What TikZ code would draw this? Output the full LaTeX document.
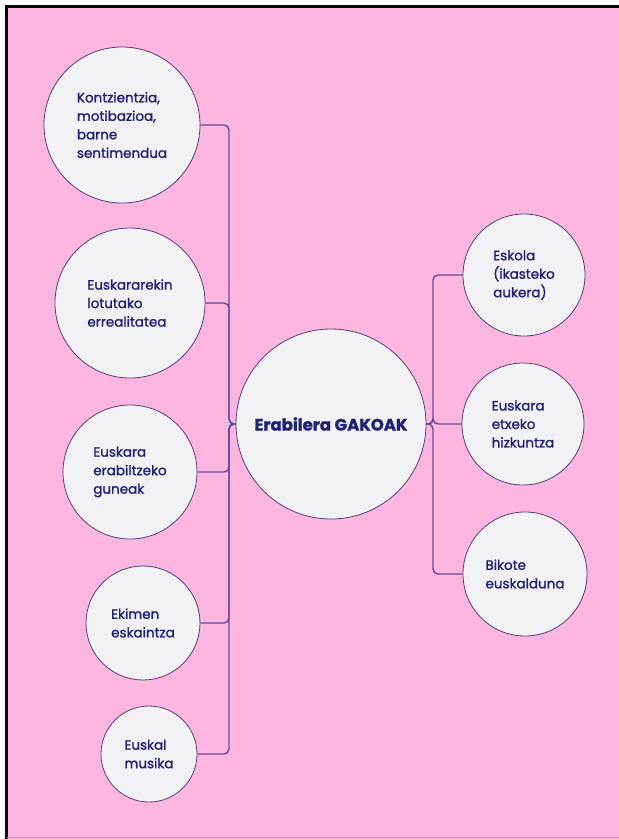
\documentclass[tikz,border=0pt]{standalone}
\usepackage{fontspec}
\setmainfont{Poppins}[FakeBold=1.5]
\definecolor{pinkbg}{RGB}{253,183,223}
\definecolor{bubble}{RGB}{242,242,245}
\definecolor{rim}{RGB}{80,62,125}
\definecolor{wire}{RGB}{105,72,158}
\definecolor{ink}{RGB}{33,33,118}
\begin{document}
\begin{tikzpicture}[x=1pt, y=-1pt,
  idea/.style = {draw=rim, fill=bubble, circle, line width=0.8pt, inner sep=0pt,
    text=ink, align=left, font=\fontsize{13.5}{18.5}\selectfont},
  hub/.style = {idea, align=center, font=\fontsize{16.5}{20}\selectfont\bfseries},
  link/.style = {draw=wire, line width=1.4pt, rounded corners=5pt}]
\useasboundingbox (0,0) rectangle (619,839);
% page
\fill[pinkbg] (7,7) rectangle (619,839);
\draw[black, line width=2.6pt] (6.3,839) -- (6.3,6.3) -- (619,6.3);
\draw[gray!70, line width=0.8pt] (7,837.5) -- (619,837.5);
% bubbles
\node[hub, minimum size=190pt] (hub) at (331,424) {Erabilera GAKOAK};
\node[idea, minimum size=156pt] (k1) at (122,125) {Kontzientzia,\\motibazioa,\\barne\\sentimendua};
\node[idea, minimum size=150pt] (k2) at (130,303) {Euskararekin\\lotutako\\errealitatea};
\node[idea, minimum size=134pt] (k3) at (130,472) {Euskara\\erabiltzeko\\guneak};
\node[idea, minimum size=114pt] (k4) at (143,623) {Ekimen\\eskaintza};
\node[idea, minimum size=96pt] (k5) at (149,754) {Euskal\\musika};
\node[idea, minimum size=122pt] (r1) at (524,275) {Eskola\\(ikasteko\\aukera)};
\node[idea, minimum size=122pt] (r2) at (523,424) {Euskara\\etxeko\\hizkuntza};
\node[idea, minimum size=124pt] (r3) at (525,574) {Bikote\\euskalduna};
% branches
\coordinate (lbus) at (229,424);
\coordinate (rbus) at (433,424);
\foreach \n in {k1,k2,k3,k4,k5}
  \draw[link] (hub.west) -- (lbus) |- (\n.east);
\foreach \n in {r1,r2,r3}
  \draw[link] (hub.east) -- (rbus) |- (\n.west);
\end{tikzpicture}
\end{document}
